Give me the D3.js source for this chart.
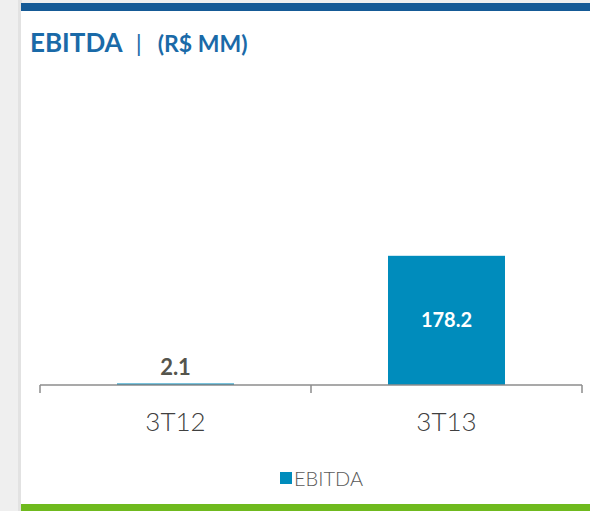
<!DOCTYPE html>
<html>
<head>
<meta charset="utf-8">
<script src="https://cdn.jsdelivr.net/npm/d3@7"></script>
<style>
  body { margin: 0; background: #efefef; }
  svg { display: block; }
</style>
</head>
<body>
<svg id="chart" width="590" height="511"></svg>
<script>
// chart data
const categories = ["3T12", "3T13"];
const ebitda = [2.1, 178.2];
const seriesName = "EBITDA";

const svg = d3.select("#chart");
const font = "'Century Gothic', 'Lato', 'DejaVu Sans', sans-serif";

// panel background, top and bottom stripes
svg.append("rect").attr("x", 0).attr("y", 0).attr("width", 590).attr("height", 511).attr("fill", "#efefef");
svg.append("rect").attr("x", 18).attr("y", 0).attr("width", 4).attr("height", 511).attr("fill", "#e2e2e2");
svg.append("rect").attr("x", 21).attr("y", 3).attr("width", 569).attr("height", 508).attr("fill", "#ffffff");
svg.append("rect").attr("x", 21).attr("y", 3).attr("width", 569).attr("height", 8).attr("fill", "#155a96");
svg.append("rect").attr("x", 21).attr("y", 504).attr("width", 569).attr("height", 7).attr("fill", "#6fba1e");

// title
const title = svg.append("text")
  .attr("x", 30).attr("y", 52)
  .attr("fill", "#1a6aa8")
  .style("font-family", font)
  .style("font-weight", "bold");
title.append("tspan").style("font-size", "26px").text("EBITDA");
title.append("tspan").attr("dx", 13).style("font-size", "24px").style("font-weight", "normal").text("|");
title.append("tspan").attr("dx", 16).style("font-size", "23px").text("(R$ MM)");

// scales
const margin = { left: 40, right: 8 };
const baseY = 385;
const x = d3.scaleBand().domain(categories).range([margin.left, 590 - margin.right]).paddingInner(0).paddingOuter(0);
const y = d3.scaleLinear().domain([0, 200]).range([baseY, baseY - 145]);
const barW = 117;

// bars
svg.selectAll(".bar")
  .data(categories)
  .enter().append("rect")
  .attr("class", "bar")
  .attr("x", d => x(d) + (x.bandwidth() - barW) / 2)
  .attr("width", barW)
  .attr("y", (d, i) => y(ebitda[i]))
  .attr("height", (d, i) => baseY - y(ebitda[i]))
  .attr("fill", "#008cbc");

// value labels
svg.selectAll(".val")
  .data(categories)
  .enter().append("text")
  .attr("class", "val")
  .attr("x", d => x(d) + x.bandwidth() / 2)
  .attr("y", (d, i) => ebitda[i] > 50 ? (y(ebitda[i]) + baseY) / 2 + 7 : y(ebitda[i]) - 8)
  .attr("text-anchor", "middle")
  .attr("fill", (d, i) => ebitda[i] > 50 ? "#ffffff" : "#55554d")
  .style("font-family", font)
  .style("font-weight", "bold")
  .style("font-size", (d, i) => ebitda[i] > 50 ? "20px" : "22px")
  .text((d, i) => ebitda[i].toFixed(1));

// x axis
const axisG = svg.append("g").attr("transform", `translate(0,${baseY})`);
axisG.append("line")
  .attr("x1", margin.left).attr("x2", 590 - margin.right)
  .attr("stroke", "#8c8c8c").attr("stroke-width", 1.5);
const tickXs = categories.map(d => x(d)).concat([x(categories[categories.length - 1]) + x.bandwidth()]);
axisG.selectAll(".tick")
  .data(tickXs)
  .enter().append("line")
  .attr("x1", d => d).attr("x2", d => d)
  .attr("y1", 0).attr("y2", 8)
  .attr("stroke", "#8c8c8c").attr("stroke-width", 1.5);
axisG.selectAll(".lab")
  .data(categories)
  .enter().append("text")
  .attr("x", d => x(d) + x.bandwidth() / 2)
  .attr("y", 46)
  .attr("text-anchor", "middle")
  .attr("fill", "#404040")
  .style("font-family", font)
  .style("font-weight", 300)
  .style("font-size", "26px")
  .text(d => d);

// legend
svg.append("rect").attr("x", 280).attr("y", 472).attr("width", 12).attr("height", 12).attr("fill", "#008cbc");
svg.append("text")
  .attr("x", 294).attr("y", 486)
  .attr("fill", "#595959")
  .style("font-family", font)
  .style("font-weight", 300)
  .style("font-size", "20px")
  .text(seriesName);
</script>
</body>
</html>
